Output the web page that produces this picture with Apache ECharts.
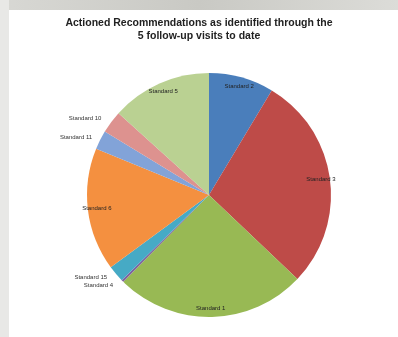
<!DOCTYPE html>
<html><head><meta charset="utf-8">
<script src="https://cdn.jsdelivr.net/npm/echarts@6/dist/echarts.min.js"></script>
<style>html,body{margin:0;padding:0;background:#fff}#c{width:398px;height:337px}</style>
</head><body><div id="c"></div>
<script>
const titleLines = ["Actioned Recommendations as identified through the", "5 follow-up visits to date"];
const categories = ["Standard 2", "Standard 3", "Standard 1", "Standard 4", "Standard 15", "Standard 6", "Standard 11", "Standard 10", "Standard 5"];
const values = [8.6, 28.5, 25.3, 0.3, 2.2, 16.3, 2.5, 3.0, 13.3];
const colors = ["#4A7EBB", "#BE4B48", "#98B954", "#7F62A0", "#46AAC5", "#F49040", "#82A3D8", "#DD928F", "#BAD192"];
const insideLabel = [true, true, true, false, false, true, false, false, true];

const chart = echarts.init(document.getElementById('c'), null, {renderer: 'canvas'});
const fontFam = '"Liberation Sans", Arial, sans-serif';
const mainData = categories.map((n, i) => ({
  name: n, value: values[i],
  itemStyle: {color: colors[i]},
  label: {show: !insideLabel[i]}
}));
const overlayData = categories.map((n, i) => ({
  name: n, value: values[i],
  itemStyle: {color: 'rgba(0,0,0,0)'},
  label: {show: insideLabel[i]}
}));
chart.setOption({
  backgroundColor: '#ffffff',
  animation: false,
  title: {
    text: titleLines.join('\n'),
    left: 'center', top: 12,
    textStyle: {fontFamily: fontFam, fontSize: 10.5, fontWeight: 'bold', color: '#222', lineHeight: 13}
  },
  graphic: [
    {type: 'rect', shape: {x: 0, y: 0, width: 398, height: 10},
     style: {fill: new echarts.graphic.LinearGradient(0, 0, 1, 0, [
       {offset: 0, color: '#d8d8d4'}, {offset: 0.5, color: '#c9c9c4'}, {offset: 1, color: '#dcdcd8'}])}, silent: true},
    {type: 'rect', shape: {x: 0, y: 0, width: 9, height: 337}, style: {fill: '#e8e8e6'}, silent: true}
  ],
  series: [
    {
      type: 'pie', center: [209, 195], radius: [0, 122],
      startAngle: 90, clockwise: true, silent: true,
      data: mainData,
      itemStyle: {borderWidth: 0},
      label: {position: 'outside', fontFamily: fontFam, fontSize: 6, color: '#333', alignTo: 'none'},
      labelLine: {show: false, length: 6, length2: 0},
      avoidLabelOverlap: true
    },
    {
      type: 'pie', center: [209, 195], radius: [98, 122],
      startAngle: 90, clockwise: true, silent: true,
      data: overlayData,
      itemStyle: {borderWidth: 0},
      label: {position: 'inside', fontFamily: fontFam, fontSize: 6, color: '#222'},
      labelLine: {show: false}
    }
  ]
});
</script></body></html>
